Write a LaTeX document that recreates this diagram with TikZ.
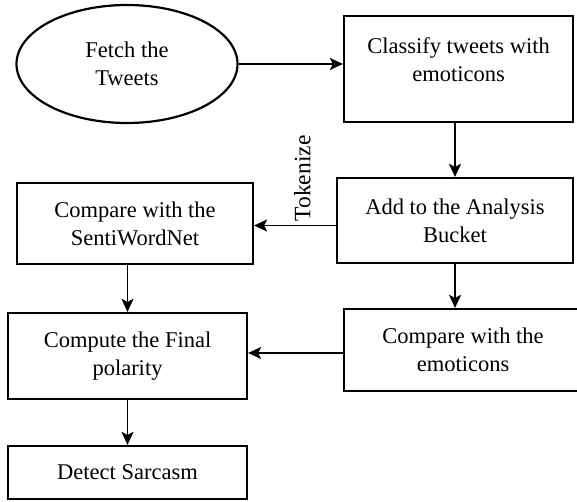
\documentclass[tikz,border=0pt]{standalone}
\usepackage{fontspec}
\setmainfont{Liberation Serif}
\usetikzlibrary{arrows.meta,shapes.geometric}

\begin{document}
\begin{tikzpicture}[x=1pt,y=-1pt,
		box/.style={draw,line width=2.2pt,rectangle,align=center,inner sep=0pt,font=\fontsize{22.5}{28}\selectfont},
		flow/.style={line width=1.6pt,-{Stealth[length=13pt,width=12pt,inset=3pt]}}]
		\useasboundingbox (0,0) rectangle (577,502);
		\node[box,ellipse,minimum width=221pt,minimum height=118pt] (tweets) at (127,64) {Fetch the\\Tweets};
		\node[box,minimum width=229pt,minimum height=106pt] (classify) at (458.5,69) {Classify tweets with\\emoticons\\[-10pt]\mbox{}};
		\node[box,minimum width=236pt,minimum height=85pt] (bucket) at (455,220.5) {Add to the Analysis\\Bucket};
		\node[box,minimum width=236pt,minimum height=81pt] (senti) at (135,223.5) {Compare with the\\SentiWordNet};
		\node[box,minimum width=238pt,minimum height=82pt] (emo) at (463,350) {Compare with the\\emoticons};
		\node[box,minimum width=239pt,minimum height=86pt] (final) at (127.5,356) {Compute the Final\\polarity};
		\node[box,minimum width=239pt,minimum height=53pt] (sarcasm) at (127.5,472.5) {Detect Sarcasm};
		\draw[flow] (tweets.east) -- (tweets.east -| classify.west) ;%fetch
		\draw[flow] (classify.south -| bucket.north) -- (bucket.north) ;%classify
		\draw[flow] ([yshift=-5pt]bucket.west) -- ([yshift=-5pt]bucket.west -| senti.east)
			node[pos=0.41,anchor=west,rotate=90,font=\fontsize{23.5}{28}\selectfont] (tokenize) {Tokenize} ;%tokenize
		\draw[flow] (senti.south -| final.north) -- (final.north) ;%senti
		\draw[flow] (bucket.south) -- (bucket.south |- emo.north) ;%bucket
		\draw[flow] ([yshift=-3pt]emo.west) -- ([yshift=-3pt]emo.west -| final.east) ;%emo
		\draw[flow] (final.south) -- (sarcasm.north) ;%final
	\end{tikzpicture}
\end{document}
